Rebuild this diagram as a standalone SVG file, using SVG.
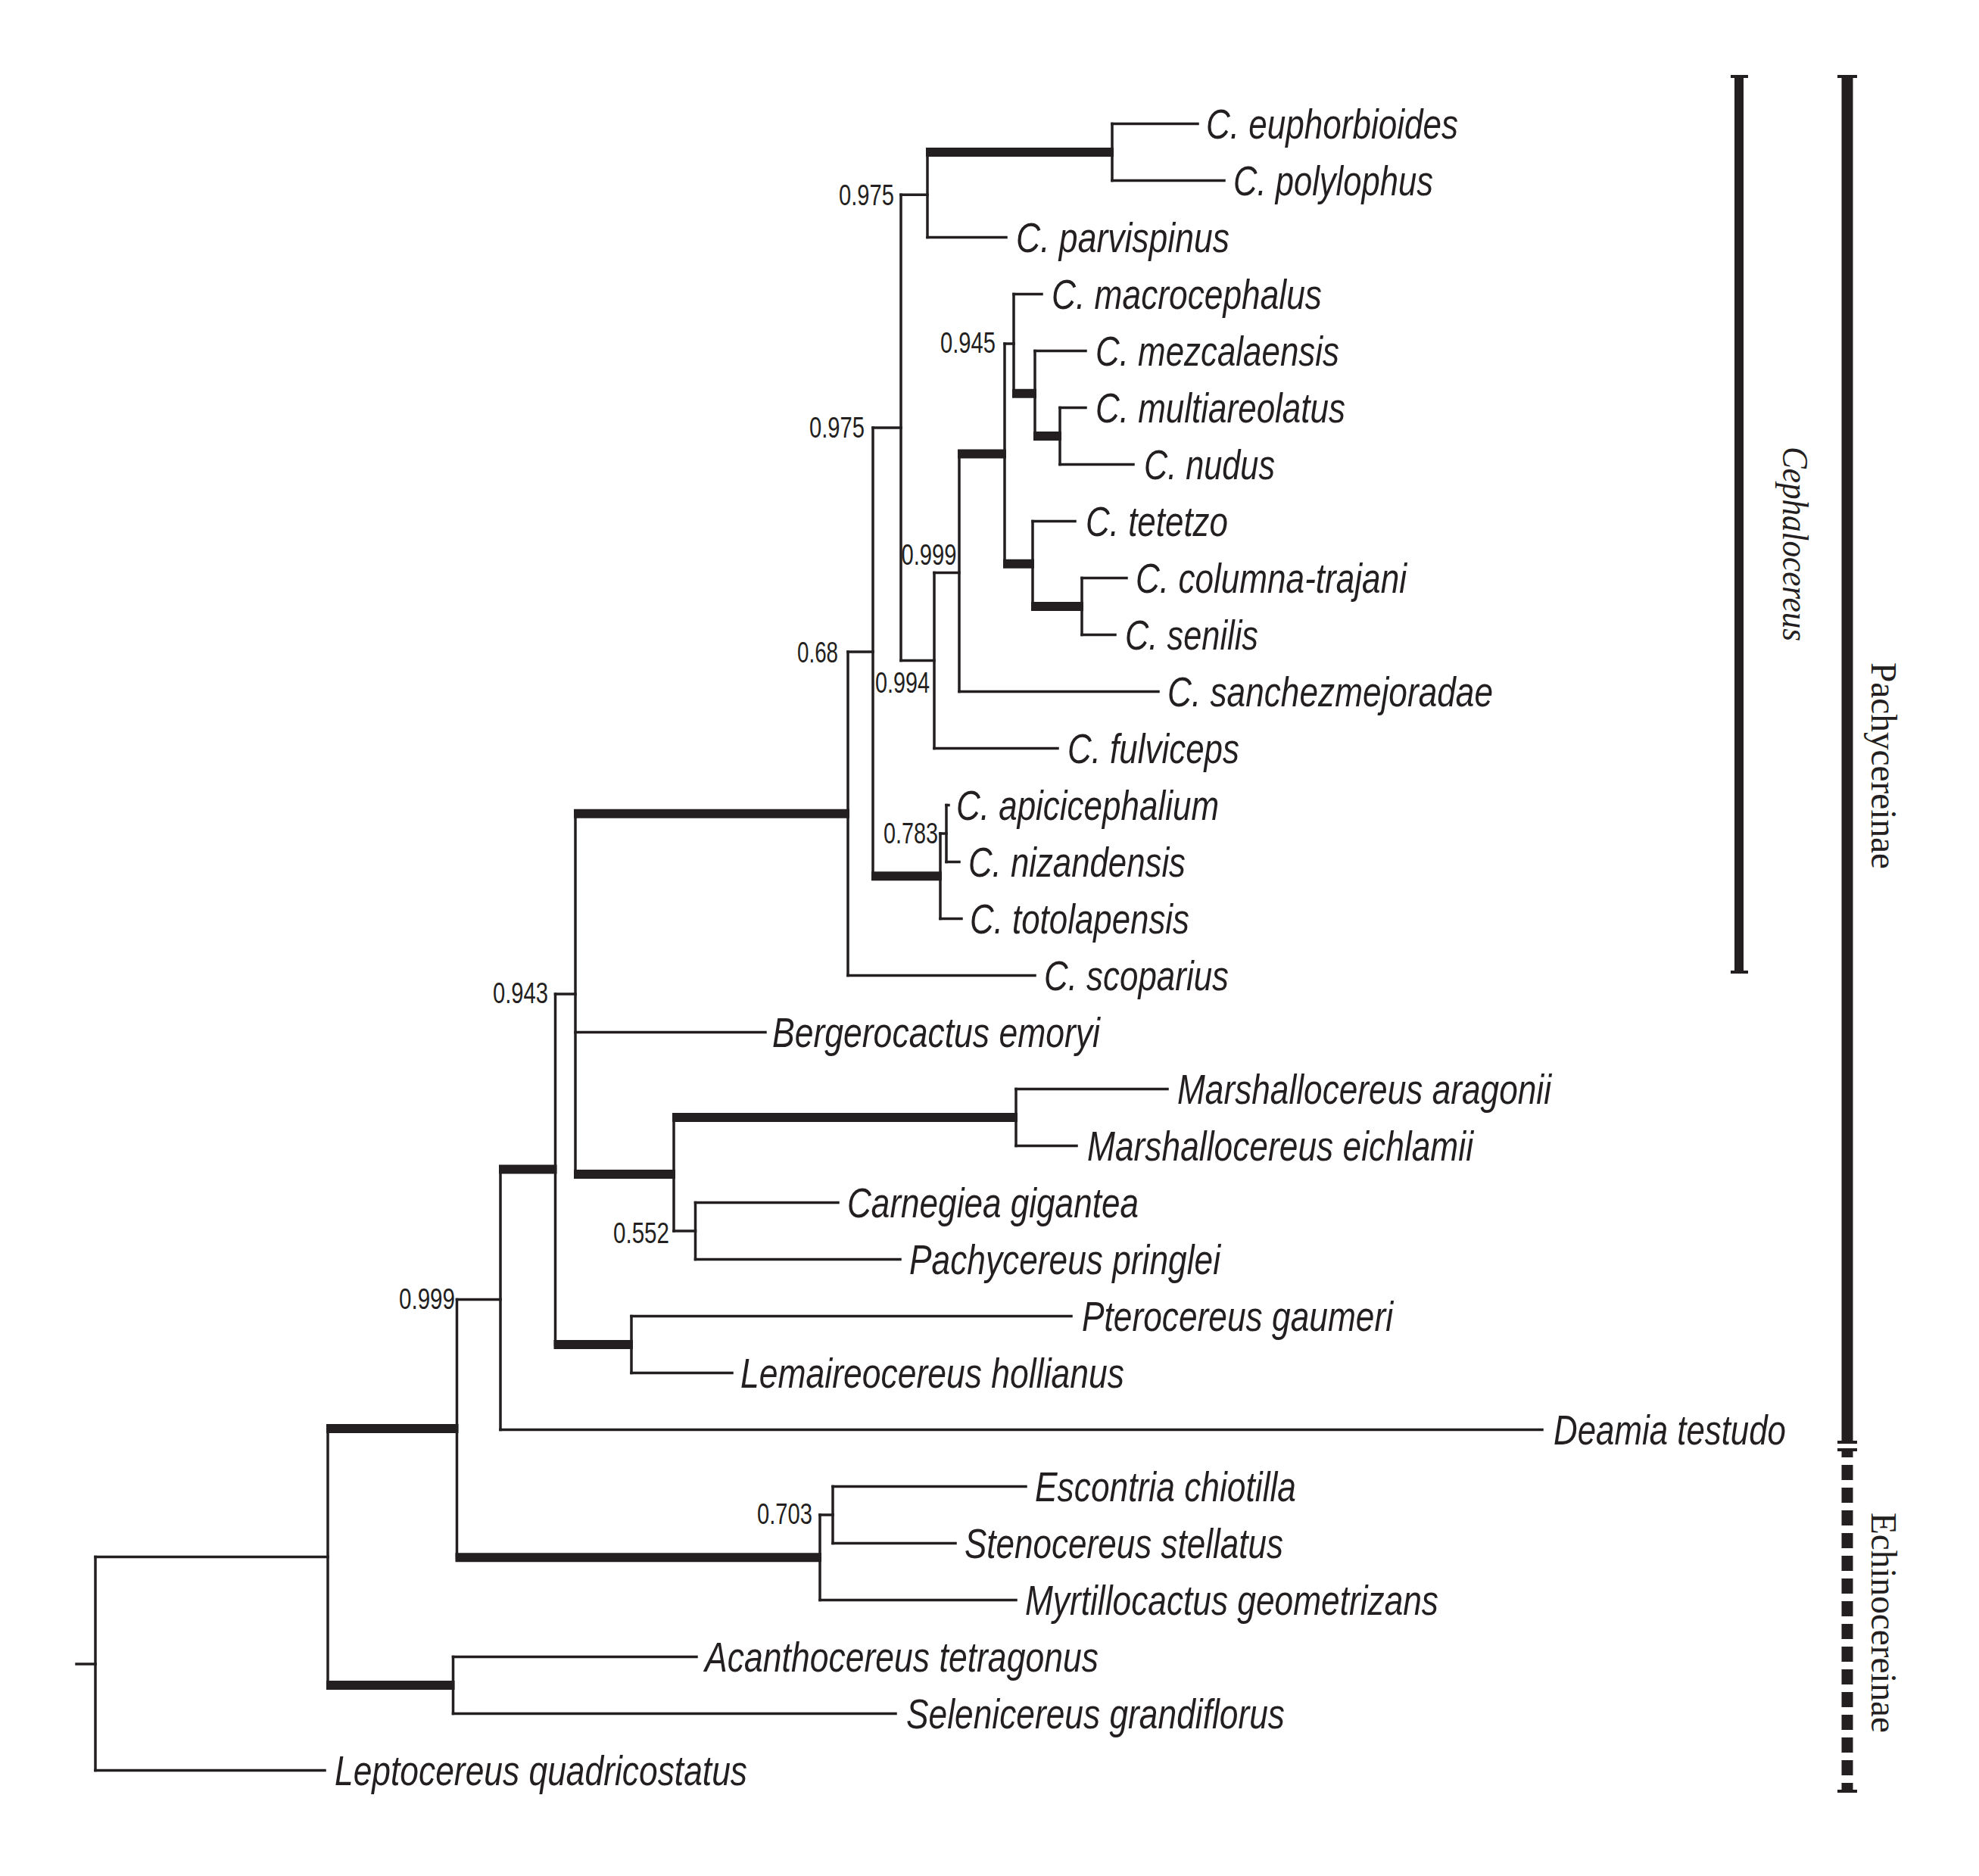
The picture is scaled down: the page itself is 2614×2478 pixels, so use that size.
<svg xmlns="http://www.w3.org/2000/svg" width="2614" height="2478" viewBox="0 0 2614 2478">
<style>
.thin{fill:none;stroke:#231f20;stroke-width:3.5;stroke-linecap:square}
.thick{fill:none;stroke:#231f20;stroke-width:12;stroke-linecap:butt}
.tx{font-family:"Liberation Sans",Arial,sans-serif;font-style:italic;font-size:55px;fill:#231f20}
.sv{font-family:"Liberation Sans",Arial,sans-serif;font-size:38px;fill:#231f20}
.grp{font-family:"Liberation Serif","Times New Roman",serif;font-size:48px;fill:#231f20}
.bar{fill:#231f20}
</style>
<rect width="2614" height="2478" fill="#ffffff"/>
<g id="connectors">
<path class="thin" d="M1469,163.5V238.5 M1225,201V313.5 M1339,388.5V519.75 M1367,463.5V576 M1400,538.5V613.5 M1327,454.1V744.75 M1364,688.5V801 M1429,763.5V838.5 M1267,599.4V913.5 M1234,756.5V988.5 M1190,257.25V872.5 M1250,1063.5V1138.5 M1242,1101V1213.5 M1153,564.9V1157.25 M1120,861V1288.5 M760,1074.8V1551 M890,1476V1626 M1342,1438.5V1513.5 M918.5,1588.5V1663.5 M733.5,1312.9V1776 M834,1738.5V1813.5 M661,1544.5V1888.5 M1100,1963.5V2038.5 M1083,2001V2113.5 M603.5,1716.5V2057.25 M598.5,2188.5V2263.5 M433,1886.9V2226 M126,2056.5V2338.5"/>
<path class="thin" d="M1190,257.25H1225 M1327,454.1H1339 M1234,756.5H1267 M1190,872.5H1234 M1153,564.9H1190 M1242,1101H1250 M1120,861H1153 M733.5,1312.9H760 M890,1626H918.5 M603.5,1716.5H661 M1083,2001H1100 M126,2056.5H433 M101,2198H126"/>
<path class="thin" d="M1469,163.5H1582 M1469,238.5H1617 M1225,313.5H1329 M1339,388.5H1376 M1367,463.5H1434 M1400,538.5H1434 M1400,613.5H1497 M1364,688.5H1420 M1429,763.5H1488 M1429,838.5H1473 M1267,913.5H1530 M1234,988.5H1397 M1250,1063.5H1253 M1250,1138.5H1267 M1242,1213.5H1270 M1120,1288.5H1367 M760,1363.5H1011 M1342,1438.5H1542 M1342,1513.5H1422 M918.5,1588.5H1107 M918.5,1663.5H1189 M834,1738.5H1415 M834,1813.5H967 M661,1888.5H2037 M1100,1963.5H1355 M1100,2038.5H1262 M1083,2113.5H1342 M598.5,2188.5H920 M598.5,2263.5H1183 M126,2338.5H429"/>
<path class="thick" d="M1223,201H1471 M1337,519.75H1369 M1365,576H1402 M1265,599.4H1329 M1325,744.75H1366 M1362,801H1431 M1151,1157.25H1244 M758,1074.8H1122 M758,1551H892 M888,1476H1344 M731.5,1776H836 M659,1544.5H735.5 M601.5,2057.25H1085 M431,1886.9H605.5 M431,2226H600.5"/>
</g>
<g id="t01"><text class="tx" x="1593" y="183" textLength="333" lengthAdjust="spacingAndGlyphs">C. euphorbioides</text></g>
<g id="t02"><text class="tx" x="1629" y="258" textLength="264" lengthAdjust="spacingAndGlyphs">C. polylophus</text></g>
<g id="t03"><text class="tx" x="1342" y="333" textLength="282" lengthAdjust="spacingAndGlyphs">C. parvispinus</text></g>
<g id="t04"><text class="tx" x="1389" y="408" textLength="357" lengthAdjust="spacingAndGlyphs">C. macrocephalus</text></g>
<g id="t05"><text class="tx" x="1447" y="483" textLength="322" lengthAdjust="spacingAndGlyphs">C. mezcalaensis</text></g>
<g id="t06"><text class="tx" x="1447" y="558" textLength="330" lengthAdjust="spacingAndGlyphs">C. multiareolatus</text></g>
<g id="t07"><text class="tx" x="1511" y="633" textLength="173" lengthAdjust="spacingAndGlyphs">C. nudus</text></g>
<g id="t08"><text class="tx" x="1434" y="708" textLength="188" lengthAdjust="spacingAndGlyphs">C. tetetzo</text></g>
<g id="t09"><text class="tx" x="1500" y="783" textLength="358" lengthAdjust="spacingAndGlyphs">C. columna-trajani</text></g>
<g id="t10"><text class="tx" x="1486" y="858" textLength="176" lengthAdjust="spacingAndGlyphs">C. senilis</text></g>
<g id="t11"><text class="tx" x="1542" y="933" textLength="430" lengthAdjust="spacingAndGlyphs">C. sanchezmejoradae</text></g>
<g id="t12"><text class="tx" x="1410" y="1008" textLength="227" lengthAdjust="spacingAndGlyphs">C. fulviceps</text></g>
<g id="t13"><text class="tx" x="1263" y="1083" textLength="347" lengthAdjust="spacingAndGlyphs">C. apicicephalium</text></g>
<g id="t14"><text class="tx" x="1279" y="1158" textLength="287" lengthAdjust="spacingAndGlyphs">C. nizandensis</text></g>
<g id="t15"><text class="tx" x="1281" y="1233" textLength="290" lengthAdjust="spacingAndGlyphs">C. totolapensis</text></g>
<g id="t16"><text class="tx" x="1379" y="1308" textLength="244" lengthAdjust="spacingAndGlyphs">C. scoparius</text></g>
<g id="t17"><text class="tx" x="1020" y="1383" textLength="433" lengthAdjust="spacingAndGlyphs">Bergerocactus emoryi</text></g>
<g id="t18"><text class="tx" x="1555" y="1458" textLength="494" lengthAdjust="spacingAndGlyphs">Marshallocereus aragonii</text></g>
<g id="t19"><text class="tx" x="1436" y="1533" textLength="510" lengthAdjust="spacingAndGlyphs">Marshallocereus eichlamii</text></g>
<g id="t20"><text class="tx" x="1119" y="1608" textLength="385" lengthAdjust="spacingAndGlyphs">Carnegiea gigantea</text></g>
<g id="t21"><text class="tx" x="1201" y="1683" textLength="411" lengthAdjust="spacingAndGlyphs">Pachycereus pringlei</text></g>
<g id="t22"><text class="tx" x="1429" y="1758" textLength="411" lengthAdjust="spacingAndGlyphs">Pterocereus gaumeri</text></g>
<g id="t23"><text class="tx" x="978" y="1833" textLength="507" lengthAdjust="spacingAndGlyphs">Lemaireocereus hollianus</text></g>
<g id="t24"><text class="tx" x="2052" y="1908" textLength="307" lengthAdjust="spacingAndGlyphs">Deamia testudo</text></g>
<g id="t25"><text class="tx" x="1367" y="1983" textLength="345" lengthAdjust="spacingAndGlyphs">Escontria chiotilla</text></g>
<g id="t26"><text class="tx" x="1274" y="2058" textLength="421" lengthAdjust="spacingAndGlyphs">Stenocereus stellatus</text></g>
<g id="t27"><text class="tx" x="1354" y="2133" textLength="546" lengthAdjust="spacingAndGlyphs">Myrtillocactus geometrizans</text></g>
<g id="t28"><text class="tx" x="931" y="2208" textLength="520" lengthAdjust="spacingAndGlyphs">Acanthocereus tetragonus</text></g>
<g id="t29"><text class="tx" x="1197" y="2283" textLength="500" lengthAdjust="spacingAndGlyphs">Selenicereus grandiflorus</text></g>
<g id="t30"><text class="tx" x="442" y="2358" textLength="545" lengthAdjust="spacingAndGlyphs">Leptocereus quadricostatus</text></g>
<g id="s01"><text class="sv" x="1108" y="271" textLength="73" lengthAdjust="spacingAndGlyphs">0.975</text></g>
<g id="s02"><text class="sv" x="1069" y="578" textLength="73" lengthAdjust="spacingAndGlyphs">0.975</text></g>
<g id="s03"><text class="sv" x="1242" y="466" textLength="73" lengthAdjust="spacingAndGlyphs">0.945</text></g>
<g id="s04"><text class="sv" x="1190.5" y="746" textLength="73" lengthAdjust="spacingAndGlyphs">0.999</text></g>
<g id="s05"><text class="sv" x="1156" y="915" textLength="72" lengthAdjust="spacingAndGlyphs">0.994</text></g>
<g id="s06"><text class="sv" x="1053" y="875" textLength="54" lengthAdjust="spacingAndGlyphs">0.68</text></g>
<g id="s07"><text class="sv" x="1167" y="1114" textLength="72" lengthAdjust="spacingAndGlyphs">0.783</text></g>
<g id="s08"><text class="sv" x="651" y="1325" textLength="73" lengthAdjust="spacingAndGlyphs">0.943</text></g>
<g id="s09"><text class="sv" x="810" y="1642" textLength="74" lengthAdjust="spacingAndGlyphs">0.552</text></g>
<g id="s10"><text class="sv" x="527" y="1729" textLength="74" lengthAdjust="spacingAndGlyphs">0.999</text></g>
<g id="s11"><text class="sv" x="1000" y="2013" textLength="73" lengthAdjust="spacingAndGlyphs">0.703</text></g>
<g id="cephalocereus">
<rect class="bar" x="2291" y="101" width="12" height="1184"/>
<rect class="bar" x="2286" y="99" width="23" height="4"/>
<rect class="bar" x="2286" y="1282" width="23" height="4"/>
<text class="grp" font-style="italic" font-size="44" transform="translate(2355,590) rotate(90)" textLength="257" lengthAdjust="spacingAndGlyphs">Cephalocereus</text>
</g>
<g id="pachycereinae">
<rect class="bar" x="2432.5" y="101" width="15" height="1804"/>
<rect class="bar" x="2427" y="99" width="26" height="4"/>
<rect class="bar" x="2427" y="1903" width="26" height="4"/>
<text class="grp" transform="translate(2472,875) rotate(90)" textLength="273" lengthAdjust="spacingAndGlyphs">Pachycereinae</text>
</g>
<g id="echinocereinae">
<rect class="bar" x="2427" y="1913" width="26" height="4"/>
<line x1="2440" y1="1917" x2="2440" y2="2364" stroke="#231f20" stroke-width="15" stroke-dasharray="20 10" stroke-dashoffset="12"/>
<rect class="bar" x="2427" y="2364" width="26" height="4"/>
<text class="grp" transform="translate(2472,1998) rotate(90)" textLength="291" lengthAdjust="spacingAndGlyphs">Echinocereinae</text>
</g>
</svg>
